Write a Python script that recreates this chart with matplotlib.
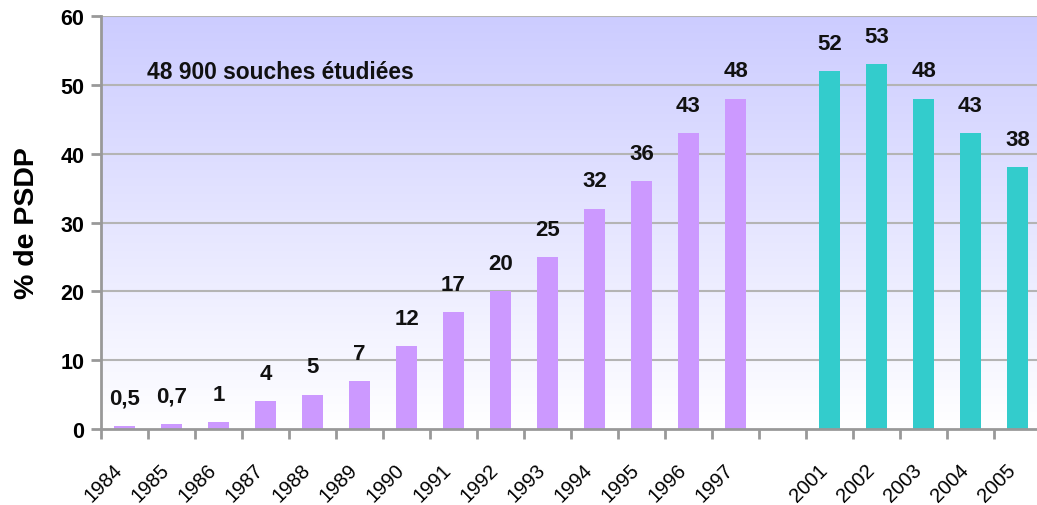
import numpy as np
import matplotlib
matplotlib.use('Agg')
import matplotlib.pyplot as plt
import matplotlib.transforms as mtransforms
from matplotlib.colors import LinearSegmentedColormap

plt.rcParams['font.family'] = ['Liberation Sans', 'DejaVu Sans']

# données
years_a = ['1984', '1985', '1986', '1987', '1988', '1989', '1990', '1991',
           '1992', '1993', '1994', '1995', '1996', '1997']
vals_a = [0.5, 0.7, 1, 4, 5, 7, 12, 17, 20, 25, 32, 36, 43, 48]
years_b = ['2001', '2002', '2003', '2004', '2005']
vals_b = [52, 53, 48, 43, 38]
col_a = '#CC99FF'
col_b = '#33CCCC'
gap = 1

x_a = np.arange(len(years_a))
x_b = np.arange(len(years_b)) + len(years_a) + gap
nslots = len(years_a) + gap + len(years_b)

fig = plt.figure(figsize=(10.37, 5.06), dpi=100)
ax = fig.add_axes([101/1037, 76/506, 940/1037, 413/506])

ax.set_xlim(-0.5, nslots - 0.5)
ax.set_ylim(0, 60)

# fond dégradé
cmap = LinearSegmentedColormap.from_list('bg', ['#FFFFFF', '#CCCCFF'])
grad = np.linspace(0, 1, 256).reshape(-1, 1)
ax.imshow(grad, cmap=cmap, aspect='auto', origin='lower',
          extent=[-0.5, nslots - 0.5, 0, 60], zorder=0)

for y in range(10, 61, 10):
    ax.axhline(y, color='#B4B4B4', lw=1.5, zorder=1)

w = 0.43
ax.bar(x_a, vals_a, width=w, color=col_a, zorder=2)
ax.bar(x_b, vals_b, width=w, color=col_b, zorder=2)

def lab(v):
    if v == int(v):
        return str(int(v))
    return ('%.1f' % v).replace('.', ',')

for xs, vs in ((x_a, vals_a), (x_b, vals_b)):
    for x, v in zip(xs, vs):
        ax.annotate(lab(v), (x, v), xytext=(0, 20), textcoords='offset points',
                    ha='center', va='center', fontsize=16, fontweight='bold',
                    color='#111111', zorder=3)

ax.text(0.48, 51.9, '48 900 souches étudiées', fontsize=16.4, va='center',
        ha='left', fontweight='bold', color='#111111', zorder=3)

for s in ('top', 'right'):
    ax.spines[s].set_visible(False)
for s in ('left', 'bottom'):
    ax.spines[s].set_color('#999999')
    ax.spines[s].set_linewidth(2)

ax.set_yticks(range(0, 61, 10))
ax.tick_params(axis='y', direction='out', length=7, width=2, color='#999999',
               labelsize=15.5, pad=5)
for t in ax.get_yticklabels():
    t.set_fontweight('bold')

ax.set_xticks(list(x_a) + list(x_b))
ax.set_xticklabels(years_a + years_b, rotation=45, ha='right', va='center',
                   rotation_mode='anchor', fontsize=14.5)
ax.tick_params(axis='x', which='major', length=0, pad=27)
shift = mtransforms.ScaledTranslation(-5/100, 0, fig.dpi_scale_trans)
for t in ax.get_xticklabels():
    t.set_transform(t.get_transform() + shift)
ax.set_xticks(np.arange(-0.5, nslots, 1), minor=True)
ax.tick_params(axis='x', which='minor', direction='out', length=7, width=2,
               color='#999999')

ax.set_ylabel('% de PSDP', fontsize=20.5, fontweight='bold', labelpad=15)

fig.savefig('out.png', dpi=100)
